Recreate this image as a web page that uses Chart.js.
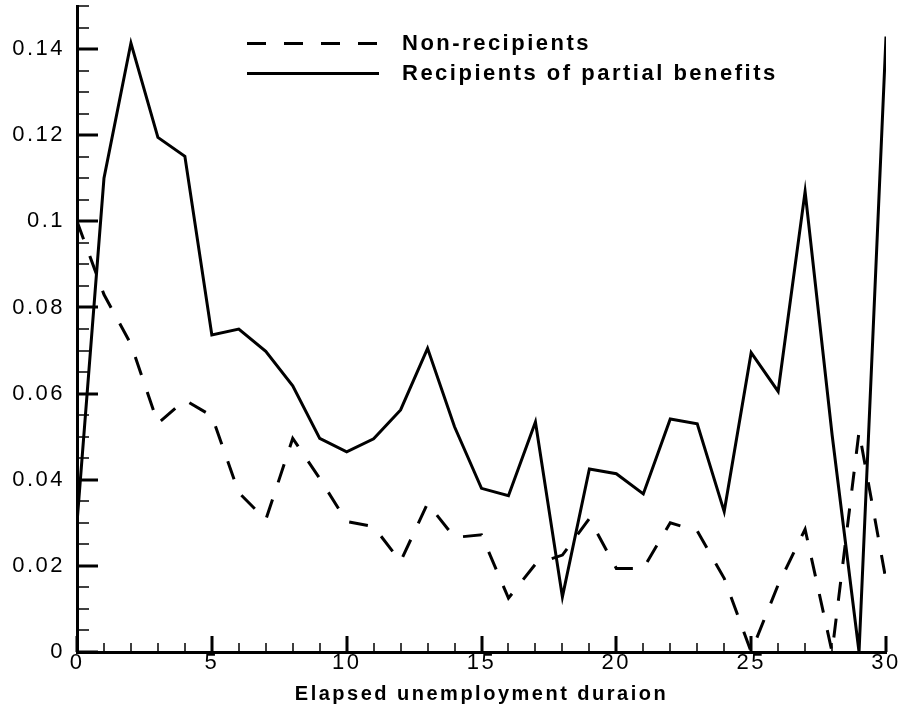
<!DOCTYPE html>
<html>
<head>
<meta charset="utf-8">
<title>Elapsed unemployment duraion</title>
<script src="https://cdn.jsdelivr.net/npm/chart.js@4.4.1/dist/chart.umd.min.js"></script>
<style>
    html, body { margin: 0; padding: 0; background: #fff; }
    #wrap { width: 902px; height: 708px; }
</style>
</head>
<body>
<div id="wrap"><canvas id="durChart" width="902" height="708"></canvas></div>
<script>
//  Elapsed duration (months) and the two series
var durations = [0, 1, 2, 3, 4, 5, 6, 7, 8, 9, 10, 11, 12, 13, 14, 15,
                 16, 17, 18, 19, 20, 21, 22, 23, 24, 25, 26, 27, 28, 29, 30];
var nonRecipients = [0.100, 0.083, 0.0715, 0.0531, 0.0585, 0.0548, 0.0370, 0.0307,
                     0.0496, 0.0403, 0.0303, 0.0291, 0.0210, 0.0345, 0.0266, 0.0272,
                     0.0125, 0.0204, 0.0225, 0.0310, 0.0194, 0.0194, 0.0300, 0.0281,
                     0.0171, 0.0, 0.0156, 0.0285, 0.0, 0.0512, 0.0167];
var partialRecipients = [0.030, 0.110, 0.1414, 0.1195, 0.1151, 0.0736, 0.0750, 0.0698,
                         0.0618, 0.0496, 0.0465, 0.0495, 0.0562, 0.0705, 0.0523, 0.0380,
                         0.0363, 0.0534, 0.0128, 0.0425, 0.0414, 0.0367, 0.0541, 0.0530,
                         0.0326, 0.0695, 0.0605, 0.1069, 0.0505, 0.0, 0.1429];
var seriesNames = ["Non-recipients", "Recipients of partial benefits"];
var xTicks = [0, 5, 10, 15, 20, 25, 30];
var xTickLabels = ["0", "5", "10", "15", "20", "25", "30"];
var yTicks = [0, 0.02, 0.04, 0.06, 0.08, 0.1, 0.12, 0.14];
var yTickLabels = ["0", "0.02", "0.04", "0.06", "0.08", "0.1", "0.12", "0.14"];
var xTitle = "Elapsed unemployment duraion";

var FONT = "'Liberation Sans', Arial, Helvetica, sans-serif";

function toPoints(values) {
    return durations.map(function (d, i) { return {x: d, y: values[i]}; });
}

//  Inward tick marks, wide letter spacing and the legend inside the plot
var tecStyle = {
    id: 'tecStyle',
    beforeDraw: function (chart) {
        chart.ctx.letterSpacing = '2.5px';
    },
    afterDraw: function (chart) {
        var ctx = chart.ctx;
        var xs = chart.scales.x, ys = chart.scales.y;
        var area = chart.chartArea;
        ctx.save();
        ctx.strokeStyle = '#000';
        ctx.lineCap = 'butt';

        //  minor ticks: every month / every 0.005
        ctx.lineWidth = 1.5;
        ctx.beginPath();
        for (var m = xs.min; m <= xs.max; m += 1) {
            var px = Math.round(xs.getPixelForValue(m));
            ctx.moveTo(px, area.bottom);
            ctx.lineTo(px, area.bottom - 9);
        }
        for (var k = 0; k * 0.005 <= ys.max + 1e-9; k++) {
            var py = Math.round(ys.getPixelForValue(k * 0.005));
            ctx.moveTo(area.left, py);
            ctx.lineTo(area.left + 12, py);
        }
        ctx.stroke();

        //  major ticks
        ctx.lineWidth = 3;
        ctx.beginPath();
        xTicks.forEach(function (v) {
            var px = Math.round(xs.getPixelForValue(v));
            ctx.moveTo(px, area.bottom);
            ctx.lineTo(px, area.bottom - 16);
        });
        yTicks.forEach(function (v) {
            var py = Math.round(ys.getPixelForValue(v));
            ctx.moveTo(area.left, py);
            ctx.lineTo(area.left + 21, py);
        });
        ctx.stroke();

        //  legend
        var lx0 = 247, lx1 = 379, ly = 43.5, step = 30;
        ctx.font = 'bold 22px ' + FONT;
        ctx.fillStyle = '#000';
        ctx.textBaseline = 'alphabetic';
        ctx.textAlign = 'left';
        chart.data.datasets.forEach(function (ds, i) {
            var y = ly + i * step;
            ctx.lineWidth = ds.borderWidth;
            ctx.setLineDash(ds.borderDash || []);
            ctx.beginPath();
            ctx.moveTo(lx0, y);
            ctx.lineTo(lx1, y);
            ctx.stroke();
            ctx.fillText(ds.label, 402, y + 6);
        });
        ctx.setLineDash([]);
        ctx.restore();
    }
};

new Chart(document.getElementById("durChart"), {
    type: 'line',
    data: {
        datasets: [
            {
                label: seriesNames[0],
                data: toPoints(nonRecipients),
                borderColor: '#000',
                borderWidth: 3,
                borderDash: [19, 18],
                borderJoinStyle: 'miter',
                pointRadius: 0,
                tension: 0,
                fill: false
            },
            {
                label: seriesNames[1],
                data: toPoints(partialRecipients),
                borderColor: '#000',
                borderWidth: 3,
                borderJoinStyle: 'miter',
                pointRadius: 0,
                tension: 0,
                fill: false
            }
        ]
    },
    options: {
        responsive: false,
        animation: false,
        layout: {padding: {top: 6, right: 16, left: 0, bottom: 0}},
        plugins: {
            legend: {display: false},
            tooltip: {enabled: false}
        },
        scales: {
            x: {
                type: 'linear',
                min: 0,
                max: 30,
                afterBuildTicks: function (scale) {
                    scale.ticks = xTicks.map(function (v) { return {value: v}; });
                },
                afterFit: function (scale) {
                    scale.height = 56;
                    scale.paddingLeft = 0;
                    scale.paddingRight = 0;
                },
                grid: {display: false, drawTicks: false},
                border: {display: true, color: '#000', width: 3},
                ticks: {
                    autoSkip: false,
                    maxRotation: 0,
                    padding: 0,
                    color: '#000',
                    font: {family: FONT, size: 22, lineHeight: 1},
                    callback: function (value, index) { return xTickLabels[index]; }
                },
                title: {
                    display: true,
                    text: xTitle,
                    color: '#000',
                    font: {family: FONT, size: 20, weight: 'bold', lineHeight: 1},
                    padding: {top: 0, bottom: 4}
                }
            },
            y: {
                min: 0,
                max: 0.15,
                afterBuildTicks: function (scale) {
                    scale.ticks = yTicks.map(function (v) { return {value: v}; });
                },
                afterFit: function (scale) {
                    scale.width = 77;
                    scale.paddingTop = 0;
                    scale.paddingBottom = 0;
                },
                grid: {display: false, drawTicks: false},
                border: {display: true, color: '#000', width: 3},
                ticks: {
                    padding: 12,
                    color: '#000',
                    font: {family: FONT, size: 22, lineHeight: 1},
                    callback: function (value, index) { return yTickLabels[index]; }
                }
            }
        }
    },
    plugins: [tecStyle]
});
</script>
</body>
</html>
